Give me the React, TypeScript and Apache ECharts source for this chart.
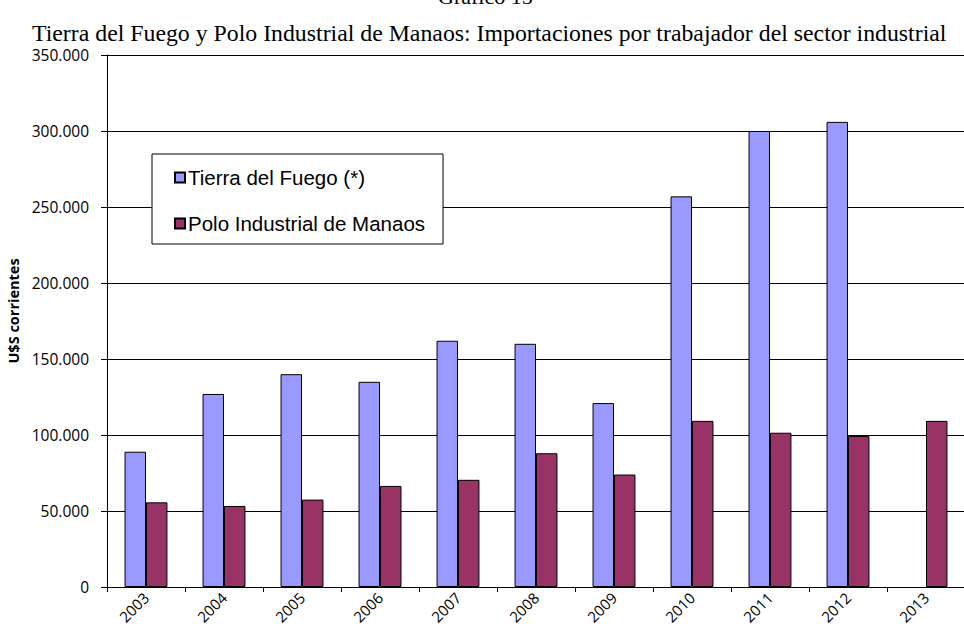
import React, { useEffect, useRef } from "react";
import * as echarts from "echarts";

const years = ["2003", "2004", "2005", "2006", "2007", "2008", "2009", "2010", "2011", "2012", "2013"];
const tierraDelFuego = [89000, 127000, 140000, 135000, 162000, 160000, 121000, 257000, 300000, 306000, null];
const poloManaos = [55700, 53300, 57500, 66500, 70500, 88000, 74000, 109300, 101500, 99300, 109300];
const seriesNames = ["Tierra del Fuego (*)", "Polo Industrial de Manaos"];
const titleText = "Gráfico 15";
const subtitleText = "Tierra del Fuego y Polo Industrial de Manaos: Importaciones por trabajador del sector industrial";
const yAxisName = "U$S corrientes";

const fmt = (v: number) => {
  if (v === 0) return "0";
  const s = Math.round(v).toString();
  return s.replace(/\B(?=(\d{3})+(?!\d))/g, ".");
};

export default function App() {
  const ref = useRef<HTMLDivElement>(null);
  useEffect(() => {
    if (!ref.current) return;
    const chart = echarts.init(ref.current, null, { renderer: "svg" });
    chart.setOption({
      animation: false,
      backgroundColor: "#fff",
      graphic: [
        {
          type: "text",
          left: 438,
          top: -15,
          style: { text: titleText, font: "22px 'Liberation Serif'", fill: "#000" },
        },
        {
          type: "text",
          left: 32,
          top: 21,
          style: { text: subtitleText, font: "23.8px 'Liberation Serif'", fill: "#000" },
        },
      ],
      legend: {
        orient: "vertical",
        left: 152,
        top: 154,
        data: seriesNames,
        borderColor: "#000",
        borderWidth: 1,
        backgroundColor: "#fff",
        padding: [13, 18, 10, 22],
        itemWidth: 10,
        itemHeight: 10,
        itemGap: 25,
        icon: "rect",
        textStyle: { fontFamily: "Liberation Sans", fontSize: 20.5, color: "#000", padding: [0, 0, 0, -2] },
      },
      grid: { left: 107, top: 55, right: -1, bottom: 43, containLabel: false, outerBoundsMode: "none" },
      xAxis: {
        type: "category",
        data: years,
        axisLine: { lineStyle: { color: "#000", width: 1 } },
        axisTick: { show: true, length: 5, interval: 0, lineStyle: { color: "#000" } },
        axisLabel: {
          interval: 0,
          rotate: 45,
          fontFamily: "Open Sans",
          fontSize: 15,
          color: "#000",
          margin: 8,
        },
      },
      yAxis: {
        type: "value",
        min: 0,
        max: 350000,
        interval: 50000,
        name: yAxisName,
        nameLocation: "middle",
        nameGap: 82,
        nameTextStyle: {
          fontFamily: "Open Sans",
          fontWeight: "bold",
          fontSize: 14.5,
          color: "#000",
          padding: [0, 0, 0, 20],
        },
        axisLine: { show: true, lineStyle: { color: "#000" } },
        axisTick: { show: true, inside: false, length: 6, lineStyle: { color: "#000" } },
        axisLabel: {
          formatter: (v: number) => fmt(v),
          fontFamily: "Open Sans",
          fontSize: 15.5,
          color: "#000",
          margin: 18,
        },
        splitLine: { show: true, lineStyle: { color: "#000", width: 1 } },
      },
      series: [
        {
          name: seriesNames[0],
          type: "bar",
          data: tierraDelFuego,
          barGap: "0%",
          barCategoryGap: "45%",
          itemStyle: { color: "#9999FF", borderColor: "#000", borderWidth: 1 },
        },
        {
          name: seriesNames[1],
          type: "bar",
          data: poloManaos,
          itemStyle: { color: "#993366", borderColor: "#000", borderWidth: 1 },
        },
      ],
    });
    return () => chart.dispose();
  }, []);
  return (
    <div
      ref={ref}
      style={{ position: "fixed", left: 0, top: 0, width: 964, height: 630 }}
    />
  );
}
